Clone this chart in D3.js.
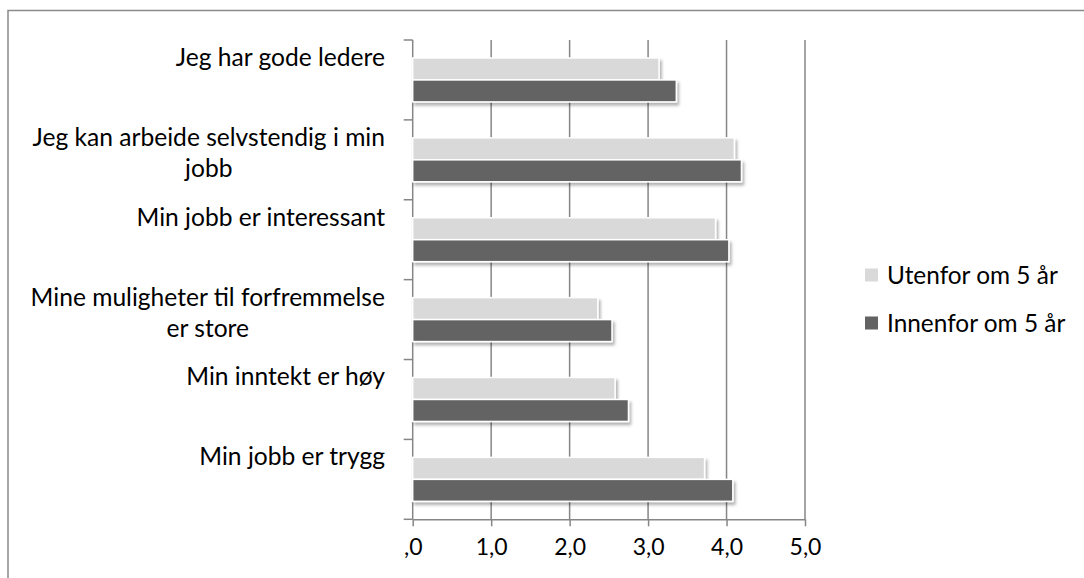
<!DOCTYPE html>
<html>
<head>
<meta charset="utf-8">
<script src="https://cdn.jsdelivr.net/npm/d3@7"></script>
<style>
  body { margin: 0; background: #fff; }
  text { font-family: Lato, "Open Sans", sans-serif; fill: #000; }
</style>
</head>
<body>
<script>
const width = 1084;
const height = 578;

// Data
const categories = [
    ["Jeg har gode ledere"],
    ["Jeg kan arbeide selvstendig i min", "jobb"],
    ["Min jobb er interessant"],
    ["Mine muligheter til forfremmelse", "er store"],
    ["Min inntekt er høy"],
    ["Min jobb er trygg"]
];
const seriesNames = ["Utenfor om 5 år", "Innenfor om 5 år"];
const utenfor = [3.14, 4.10, 3.86, 2.36, 2.58, 3.72];
const innenfor = [3.36, 4.19, 4.03, 2.54, 2.75, 4.08];
const xTicks = [0, 1, 2, 3, 4, 5];
const xTickLabels = [",0", "1,0", "2,0", "3,0", "4,0", "5,0"];
const colors = ["#d9d9d9", "#636363"];

const catKeys = categories.map(c => c.join(" "));
const rows = catKeys.map((k, i) => ({ key: k, lines: categories[i], values: [utenfor[i], innenfor[i]] }));

const svg = d3.select("body")
    .append("svg")
    .attr("width", width)
    .attr("height", height);

// Drop shadow for the bars
const defs = svg.append("defs");
defs.append("filter")
    .attr("id", "shadow")
    .attr("x", "-5%").attr("y", "-30%")
    .attr("width", "115%").attr("height", "180%")
    .append("feDropShadow")
    .attr("dx", 2).attr("dy", 3)
    .attr("stdDeviation", 1.8)
    .attr("flood-color", "#000")
    .attr("flood-opacity", 0.3);

// Outer chart frame (runs off the right and bottom edges)
svg.append("rect")
    .attr("x", 8).attr("y", 10.5)
    .attr("width", 1200).attr("height", 700)
    .attr("fill", "none")
    .attr("stroke", "#8a8a8a")
    .attr("stroke-width", 1.5);

const x = d3.scaleLinear().domain([0, 5]).range([412.7, 805]);
const y = d3.scaleBand().domain(catKeys).range([40, 519.3])
    .paddingInner(0.45).paddingOuter(0.225);
const ySub = d3.scaleBand().domain([0, 1]).range([0, y.bandwidth()]);

const gridColor = "#868686";

// Vertical gridlines
svg.append("g")
    .selectAll("line")
    .data(xTicks.filter(d => d > 0))
    .join("line")
    .attr("x1", d => x(d)).attr("x2", d => x(d))
    .attr("y1", y.range()[0]).attr("y2", y.range()[1])
    .attr("stroke", gridColor)
    .attr("stroke-width", 1.5);

// X axis
const xAxis = svg.append("g")
    .attr("transform", `translate(0,${y.range()[1]})`)
    .call(d3.axisBottom(x)
        .tickValues(xTicks)
        .tickFormat((d, i) => xTickLabels[i])
        .tickSize(7)
        .tickPadding(12)
        .tickSizeOuter(0));
xAxis.select(".domain").attr("stroke", gridColor).attr("stroke-width", 1.5);
xAxis.selectAll(".tick line").attr("stroke", gridColor).attr("stroke-width", 1.5);
xAxis.selectAll(".tick text")
    .style("font-size", "23px")
    .attr("fill", "#000");

// Y axis line and category boundary ticks
const step = y.step();
const edges = catKeys.map(k => y(k) - (step - y.bandwidth()) / 2);
edges.push(edges[edges.length - 1] + step);
svg.append("line")
    .attr("x1", x(0)).attr("x2", x(0))
    .attr("y1", y.range()[0]).attr("y2", y.range()[1])
    .attr("stroke", gridColor)
    .attr("stroke-width", 1.5);
svg.append("g")
    .selectAll("line")
    .data(edges)
    .join("line")
    .attr("x1", x(0) - 9).attr("x2", x(0))
    .attr("y1", d => d).attr("y2", d => d)
    .attr("stroke", gridColor)
    .attr("stroke-width", 1.5);

// Bars
const groups = svg.append("g")
    .selectAll("g")
    .data(rows)
    .join("g")
    .attr("transform", d => `translate(0,${y(d.key)})`);

groups.selectAll("rect")
    .data(d => d.values)
    .join("rect")
    .attr("x", x(0))
    .attr("y", (d, i) => ySub(i))
    .attr("width", d => x(d) - x(0))
    .attr("height", ySub.bandwidth())
    .attr("fill", (d, i) => colors[i])
    .attr("stroke", "#fff")
    .attr("stroke-width", 1.5)
    .attr("filter", "url(#shadow)");

// Category labels, lines centred on each other, block right-aligned
const labelRight = 385;
const labels = svg.append("g")
    .selectAll("text")
    .data(rows)
    .join("text")
    .style("font-size", "24.6px")
    .attr("text-anchor", "middle");

labels.each(function(d) {
    const t = d3.select(this);
    const center = y(d.key) + y.bandwidth() / 2;
    d.lines.forEach((line, i) => {
        t.append("tspan")
            .attr("y", center - 14 + i * 31.5)
            .text(line);
    });
    let maxW = 0;
    t.selectAll("tspan").each(function() {
        maxW = Math.max(maxW, this.getComputedTextLength());
    });
    t.selectAll("tspan").attr("x", labelRight - maxW / 2);
});

// Legend
const legend = svg.append("g")
    .selectAll("g")
    .data(seriesNames)
    .join("g")
    .attr("transform", (d, i) => `translate(865,${275 + i * 48})`);

legend.append("rect")
    .attr("x", 0).attr("y", -6.5)
    .attr("width", 13).attr("height", 13)
    .attr("fill", (d, i) => colors[i]);

legend.append("text")
    .attr("x", 22)
    .attr("dy", "0.35em")
    .style("font-size", "24.4px")
    .text(d => d);
</script>
</body>
</html>
